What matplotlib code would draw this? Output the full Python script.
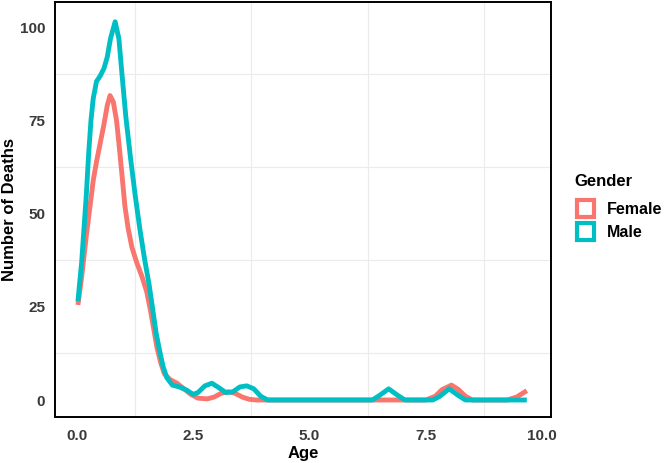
import matplotlib
matplotlib.use('Agg')
import matplotlib.pyplot as plt
from matplotlib.patches import Rectangle
from matplotlib.ticker import MultipleLocator, FormatStrFormatter

plt.rcParams['font.family'] = ['Liberation Sans', 'DejaVu Sans']

# Kształt krzywych (wiek, liczba zgonów)
male_age = [0.02, 0.1, 0.15, 0.2, 0.25, 0.3, 0.35, 0.42, 0.5, 0.58, 0.65, 0.72, 0.82,
            0.9, 0.97, 1.05, 1.15, 1.25, 1.35, 1.45, 1.55, 1.62, 1.7, 1.78, 1.85, 1.93,
            2.05, 2.2, 2.35, 2.5, 2.6, 2.75, 2.9, 3.05, 3.2, 3.35, 3.5, 3.65, 3.8, 3.95,
            4.1, 6.35, 6.5, 6.7, 6.9, 7.05, 7.65, 7.8, 8.0, 8.2, 8.35, 9.67]
male_deaths = [26.5, 37, 46, 55, 66, 75, 81, 85.5, 87, 89, 92, 97, 101.5,
               97, 87, 76, 65, 55, 46, 38, 31, 25, 18, 13, 9, 6,
               4, 3.5, 2.7, 1.5, 2, 3.8, 4.5, 3.3, 2, 2.2, 3.5, 3.8, 3, 1,
               0, 0, 1.2, 3, 1.2, 0, 0, 1, 3, 1.2, 0, 0]

female_age = [0.02, 0.1, 0.2, 0.28, 0.35, 0.42, 0.5, 0.58, 0.65, 0.71, 0.78, 0.85, 0.9,
              0.97, 1.03, 1.1, 1.18, 1.28, 1.4, 1.5, 1.58, 1.65, 1.72, 1.8, 1.88, 2.0,
              2.15, 2.3, 2.45, 2.6, 2.8, 2.95, 3.1, 3.25, 3.4, 3.55, 3.7, 3.85, 7.5,
              7.7, 7.85, 8.05, 8.2, 8.35, 8.5, 9.25, 9.45, 9.67]
female_deaths = [25.5, 33, 44, 52, 59, 64, 69, 74, 79, 81.7, 80, 75, 69,
                 60, 52, 46, 41, 37, 33, 29, 24, 19, 14, 10, 7, 5.5,
                 4.5, 3, 1.5, 0.5, 0.3, 0.8, 1.8, 2.2, 1.8, 0.8, 0.2, 0, 0,
                 1, 2.8, 4, 2.8, 1, 0, 0, 0.8, 2.5]

genders = ['Female', 'Male']
colors = ['#F8766D', '#00BFC4']

fig = plt.figure(figsize=(6.65, 4.63), dpi=100)
ax = fig.add_axes([55 / 665, 46 / 463, 496 / 665, 415 / 463])

ax.plot(female_age, female_deaths, color=colors[0], lw=3.5, solid_joinstyle='round',
        solid_capstyle='butt')
ax.plot(male_age, male_deaths, color=colors[1], lw=3.5, solid_joinstyle='round',
        solid_capstyle='butt')

ax.set_xlim(-0.473, 10.19)
ax.set_ylim(-4.56, 106.8)
ax.xaxis.set_major_locator(MultipleLocator(2.5))
ax.yaxis.set_major_locator(MultipleLocator(25))
ax.xaxis.set_minor_locator(MultipleLocator(1.25))
ax.yaxis.set_minor_locator(MultipleLocator(12.5))
ax.xaxis.set_major_formatter(FormatStrFormatter('%.1f'))

# Tylko linie pomocnicze siatki (minor)
ax.grid(which='minor', color='#EBEBEB', lw=0.8)
ax.grid(which='major', visible=False)
ax.set_axisbelow(True)
ax.tick_params(which='both', length=0, labelsize=11, labelcolor='#3a3a3a')
ax.tick_params(axis='y', pad=7)
ax.tick_params(axis='x', pad=9)
for lab in ax.get_xticklabels() + ax.get_yticklabels():
    lab.set_fontweight('bold')
for sp in ax.spines.values():
    sp.set_color('black')
    sp.set_linewidth(1.4)

ax.set_xlabel('Age', fontsize=12, fontweight='bold', labelpad=2)
ax.set_ylabel('Number of Deaths', fontsize=12, fontweight='bold')
ax.yaxis.set_label_coords(-0.076, 0.5)

# Legenda
W, H = 665, 463
fig.text(574 / W, 1 - 182 / H, 'Gender', fontsize=12, fontweight='bold', va='center')
for i, (g, c) in enumerate(zip(genders, colors)):
    top = 200 + i * 23
    fig.patches.append(Rectangle((577 / W, 1 - (top + 17) / H), 17 / W, 17 / H,
                                 transform=fig.transFigure, facecolor='white',
                                 edgecolor=c, lw=3))
    fig.text(607 / W, 1 - (top + 10) / H, g, fontsize=11.5, fontweight='bold', va='center')

fig.savefig('out.png', dpi=100)
